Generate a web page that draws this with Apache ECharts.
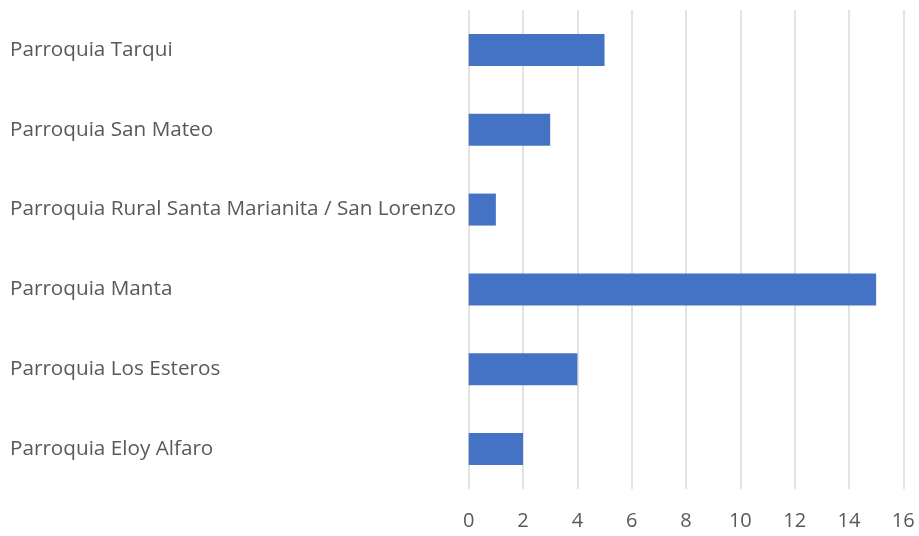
<!DOCTYPE html>
<html><head><meta charset="utf-8">
<script src="https://cdn.jsdelivr.net/npm/echarts@6/dist/echarts.min.js"></script>
<style>html,body{margin:0;padding:0;background:#fff}#c{width:919px;height:536px}</style>
</head><body><div id="c"></div>
<script>
const categories = ["Parroquia Eloy Alfaro","Parroquia Los Esteros","Parroquia Manta","Parroquia Rural Santa Marianita / San Lorenzo","Parroquia San Mateo","Parroquia Tarqui"];
const values = [2,4,15,1,3,5];
const xMin = 0, xMax = 16, xStep = 2;

const chart = echarts.init(document.getElementById('c'));
chart.setOption({
  animation:false,
  grid:{left:468.7,right:15.7,top:10,bottom:47,containLabel:false},
  xAxis:{type:'value',min:xMin,max:xMax,interval:xStep,
    axisLine:{show:false},axisTick:{show:false},
    splitLine:{lineStyle:{color:'#d9d9d9',width:1.5}},
    axisLabel:{color:'#595959',fontFamily:'Open Sans',fontSize:20,margin:22}},
  yAxis:{type:'category',data:categories,
    axisLine:{show:false},axisTick:{show:false},
    axisLabel:{color:'#595959',fontFamily:'Open Sans',fontSize:20.7,align:'left',margin:458.7,padding:[3,0,0,0]}},
  series:[{type:'bar',data:values,barWidth:32,itemStyle:{color:'#4472C4'}}]
});
</script></body></html>
